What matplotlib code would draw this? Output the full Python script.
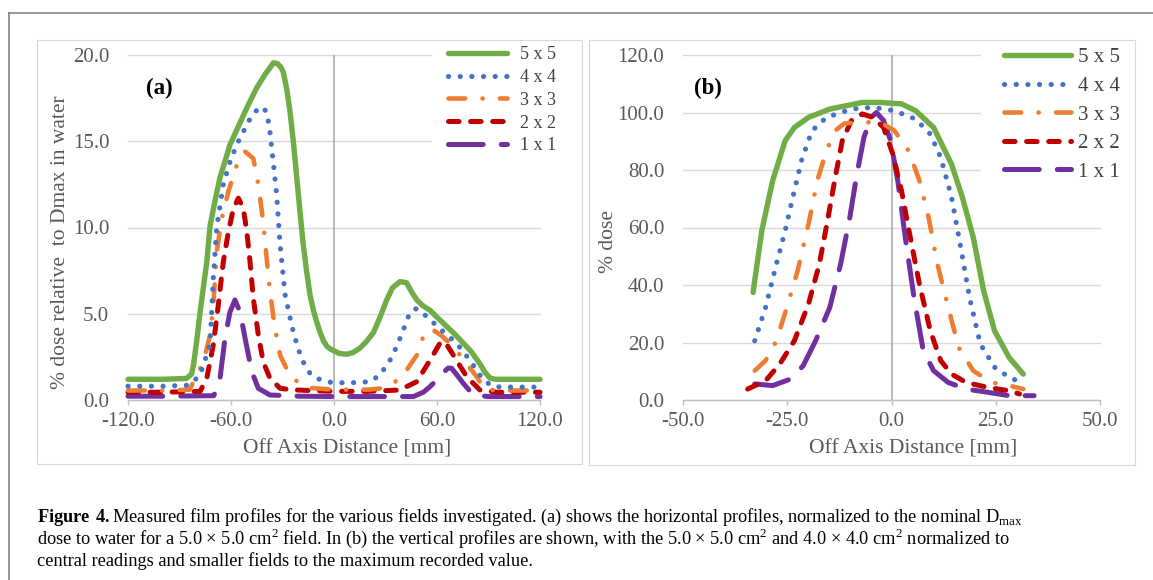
import matplotlib
matplotlib.use("Agg")
import matplotlib.pyplot as plt
from matplotlib.patches import Rectangle
from matplotlib.lines import Line2D

plt.rcParams['font.family'] = ['Liberation Serif', 'DejaVu Serif']
plt.rcParams['mathtext.fontset'] = 'custom'
plt.rcParams['mathtext.rm'] = 'Liberation Serif'
plt.rcParams['mathtext.bf'] = 'Liberation Serif:bold'
plt.rcParams['lines.scale_dashes'] = False

W, H = 1153, 580

# ---- panel (a): horizontal profiles, % of Dmax in water ----
a5_x = [-120, -100, -86, -83, -81.9, -80, -78, -76, -74.1, -72.2, -69, -66.4, -63, -60.6, -56,
        -52.8, -49, -45, -40, -37, -35.3, -33, -31, -29.5, -27.5, -25.6, -23.5, -21.7, -19.8,
        -17.9, -16, -14, -12, -10, -8, -6, -4, -2, 0, 3, 7.4, 11, 15, 19, 22.9, 26, 30.7, 34,
        38.4, 42.3, 45, 48.2, 52, 55.9, 60, 63.7, 70, 75.3, 80, 85, 88, 90.9, 94, 105, 120]
a5_y = [1.2, 1.2, 1.25, 1.5, 2.0, 3.4, 5.1, 6.6, 8.0, 10.1, 11.7, 12.9, 14.0, 14.8, 15.8,
        16.5, 17.3, 18.1, 18.9, 19.3, 19.55, 19.5, 19.3, 19.0, 18.0, 16.7, 14.8, 12.9, 10.9,
        9.0, 7.5, 6.1, 5.2, 4.5, 3.9, 3.4, 3.1, 2.95, 2.85, 2.7, 2.65, 2.75, 3.0, 3.4, 3.9,
        4.6, 5.8, 6.5, 6.86, 6.8, 6.3, 5.8, 5.45, 5.2, 4.8, 4.45, 3.85, 3.3, 2.8, 2.1, 1.6,
        1.27, 1.2, 1.2, 1.2]

a4_x = [-120, -100, -86, -83.9, -78, -72.2, -70.3, -68.3, -64.5, -60.6, -56.7, -52.8, -48.9,
        -45, -42.1, -39.2, -37.3, -35.4, -33.4, -31.4, -28.5, -24.6, -21, -17.9, -14, -10.1,
        -4.3, 0, 10, 21, 26.8, 32.6, 36.5, 40.4, 43.3, 47.2, 50, 54, 63.7, 71.4, 79.2, 87,
        92.8, 100, 120]
a4_y = [0.8, 0.8, 0.85, 0.9, 1.45, 3.2, 7.05, 10.0, 12.5, 13.8, 14.8, 15.55, 16.3, 16.8, 17.0,
        16.7, 15.55, 13.8, 11.9, 9.0, 6.1, 4.3, 3.0, 2.2, 1.55, 1.26, 1.06, 1.0, 1.0, 1.06,
        1.45, 2.3, 3.1, 4.06, 4.83, 5.3, 5.2, 4.83, 3.96, 3.29, 2.3, 1.16, 0.77, 0.75, 0.75]

a3_x = [-120, -100, -84, -81, -76.1, -72.2, -70.3, -68.3, -65.4, -61.5, -56.7, -51.8, -47,
        -44.1, -41.2, -39.2, -37.3, -34.4, -31.4, -25.6, -19.8, -14, 0, 20, 30, 34.5, 40.4,
        48.2, 53, 57.8, 63, 69.5, 77.3, 83.1, 88, 100, 120]
a3_y = [0.55, 0.55, 0.6, 1.26, 2.2, 3.77, 5.5, 8.6, 10.5, 12.1, 13.6, 14.4, 14.0, 12.5, 10.3,
        8.2, 6.3, 4.15, 2.6, 1.4, 0.95, 0.7, 0.6, 0.6, 0.7, 0.97, 1.45, 2.6, 3.96, 4.06, 3.7,
        3.1, 2.1, 1.35, 0.6, 0.55, 0.55]

a2_x = [-120, -100, -78, -74.1, -70.3, -67.4, -64.5, -61.5, -58.6, -55.7, -52.8, -50.8, -48.9,
        -47, -44.1, -41.2, -37.3, -31.4, -25.6, -15, 0, 20, 38.3, 48.2, 55.9, 61.7, 64.6,
        71.4, 77.3, 85, 95, 120]
a2_y = [0.45, 0.45, 0.5, 1.26, 3.2, 5.5, 8.0, 9.76, 11.1, 11.7, 11.1, 9.76, 8.0, 5.9, 3.77,
        2.2, 1.26, 0.68, 0.6, 0.55, 0.5, 0.5, 0.58, 1.06, 2.3, 3.29, 3.38, 2.3, 1.35, 0.58,
        0.45, 0.45]

a1_x = [-120, -100, -70, -66.4, -63.5, -60.6, -57.7, -54.7, -51.8, -47.9, -44.1, -37.3, -20,
        0, 20, 46.2, 52, 55.9, 59.8, 63.7, 66.5, 68.5, 72, 75.3, 81.1, 90, 120]
a1_y = [0.22, 0.22, 0.25, 1.26, 3.58, 5.1, 5.8, 5.1, 3.58, 1.64, 0.68, 0.29, 0.22, 0.2, 0.2,
        0.2, 0.45, 0.77, 1.16, 1.6, 1.85, 1.84, 1.4, 0.97, 0.29, 0.2, 0.2]

# ---- panel (b): vertical profiles, % dose ----
b5_x = [-33.2, -31.1, -28.5, -25.5, -23.3, -19.9, -14.8, -7, -2.7, 2.4, 5.8, 10.1, 14.4, 17,
        19.6, 22.1, 24.7, 28.2, 31.6]
b5_y = [37.4, 58.9, 76.3, 90.2, 94.8, 98.3, 101.2, 103.5, 103.5, 103, 100.6, 94.8, 82, 70.5,
        56.6, 38, 24.1, 14.8, 9.0]

b4_x = [-32.8, -30.2, -27.6, -25.5, -23.3, -21.6, -19.1, -15.6, -9.6, -4.5, 0.7, 5.8, 9.3,
        11.8, 14.4, 16.6, 18.7, 21.3, 24.7, 28.2, 31.6]
b4_y = [20.6, 32.2, 47.3, 58.9, 72.8, 83.2, 93.6, 98.3, 101.2, 101.8, 100.6, 97.7, 92.5, 84.4,
        70.5, 53.1, 35.7, 19.5, 11.4, 7.9, 5.8]

b3_x = [-32.8, -30.2, -27.6, -25.1, -22.5, -19.9, -17.8, -15.6, -13.5, -11.3, -6.2, -2.7, 0.7,
        4.1, 6.7, 8.9, 11, 13.6, 16.1, 19.6, 23.9, 28.2, 31.6]
b3_y = [10.2, 13.7, 20.6, 32.2, 45, 61.2, 76.3, 86.7, 93.7, 96.2, 96.6, 96.6, 93.7, 86.7, 76.3,
        63.5, 47.3, 32.2, 18.3, 10.2, 6.1, 5.0, 3.8]

b2_x = [-34.5, -30.2, -26.8, -23.3, -19.9, -17.3, -15.2, -13.5, -11.8, -9.6, -7, -4.5, -1.9,
        0.3, 2.4, 4.5, 6.7, 9.3, 11.8, 14.4, 17.9, 23, 28.2, 30.7]
b2_y = [3.8, 6.7, 12.5, 20.6, 33.4, 47.3, 63.5, 77.4, 90.2, 97.2, 99.5, 98.3, 94.8, 85.6, 72.8,
        56.6, 40.3, 24.1, 13.7, 9.0, 6.1, 4.4, 3.2, 2.1]

b1_x = [-32.8, -28.5, -24.2, -21.2, -18.2, -14.8, -12.2, -10, -8.3, -6.6, -4.9, -3.6, -1.9,
        -0.2, 1.5, 3.3, 5.4, 7.6, 10.1, 13.6, 17.9, 23, 28.2, 34.2]
b1_y = [5.6, 5.0, 7.3, 11.9, 20.6, 32.2, 47.3, 63.5, 78.6, 91.4, 98.3, 100, 97.2, 90.2, 76.3,
        56.6, 35.7, 17.2, 10.2, 6.1, 3.8, 2.7, 1.5, 1.5]

labels = ["5 x 5", "4 x 4", "3 x 3", "2 x 2", "1 x 1"]
colors = ["#70AD47", "#4472C4", "#ED7D31", "#C00000", "#7030A0"]

a_ticks_x = [-120, -60, 0, 60, 120]
a_ticks_y = [0, 5, 10, 15, 20]
b_ticks_x = [-50, -25, 0, 25, 50]
b_ticks_y = [0, 20, 40, 60, 80, 100, 120]


def style_for(i):
    if i == 0:
        return dict(lw=3.9, linestyle='-', solid_capstyle='round')
    if i == 1:
        return dict(lw=3.7, linestyle=(0, (0.1, 8.3)), dash_capstyle='round')
    if i == 2:
        return dict(lw=3.3, linestyle=(0, (12.0, 12.5, 0.1, 12.5)), dash_capstyle='round')
    if i == 3:
        return dict(lw=3.6, linestyle=(0, (7.6, 8.3)), dash_capstyle='round')
    return dict(lw=3.6, linestyle=(0, (25.0, 13.0)), dash_capstyle='round')


def fx(px):
    return px / W


def fy(py):
    return 1 - py / H


fig = plt.figure(figsize=(W / 100, H / 100), dpi=100)

# outer page frame and panel boxes
fig.add_artist(Line2D([fx(9), 1], [fy(12.5), fy(12.5)], color='#7a7a7a', lw=1.1))
fig.add_artist(Line2D([fx(9), fx(9)], [fy(12.5), 0], color='#7a7a7a', lw=1.1))
fig.add_artist(Rectangle((fx(37), fy(464)), fx(582) - fx(37), fy(40) - fy(464),
                         fill=False, ec='#D9D9D9', lw=0.8, zorder=5))
fig.add_artist(Rectangle((fx(589), fy(465)), fx(1135) - fx(589), fy(40) - fy(465),
                         fill=False, ec='#D9D9D9', lw=0.8, zorder=5))

ax_a = fig.add_axes([fx(128), fy(400), fx(540) - fx(128), fy(55) - fy(400)])
ax_b = fig.add_axes([fx(683), fy(400), fx(1100) - fx(683), fy(55) - fy(400)])

a_series = [(a5_x, a5_y), (a4_x, a4_y), (a3_x, a3_y), (a2_x, a2_y), (a1_x, a1_y)]
b_series = [(b5_x, b5_y), (b4_x, b4_y), (b3_x, b3_y), (b2_x, b2_y), (b1_x, b1_y)]

panels = [
    (ax_a, a_series, (-120, 120), (0, 20), a_ticks_x, a_ticks_y,
     "% dose relative  to Dmax in water", 0.532, -0.165),
    (ax_b, b_series, (-50, 50), (0, 120), b_ticks_x, b_ticks_y,
     "% dose", 0.552, -0.178),
]

for ax, series, xlim, ylim, tx, ty, ylab, xl_x, yl_x in panels:
    for i, (xs, ys) in enumerate(series):
        ax.plot(xs, ys, color=colors[i], label=labels[i], clip_on=False,
                zorder=3 + (5 - i) * 0.1, **style_for(i))
    ax.set_xlim(*xlim)
    ax.set_ylim(*ylim)
    ax.set_xticks(tx)
    ax.set_yticks(ty)
    ax.set_xticklabels([f"{v:.1f}" for v in tx])
    ax.set_yticklabels([f"{v:.1f}" for v in ty])
    for s in ['top', 'right', 'left']:
        ax.spines[s].set_visible(False)
    ax.spines['bottom'].set_color('#BFBFBF')
    ax.spines['bottom'].set_linewidth(1.0)
    ax.axvline(0, color='#A6A6A6', lw=1.1, zorder=1)
    ax.yaxis.grid(True, color='#D9D9D9', lw=1.0)
    for gl in ax.get_ygridlines():
        gl.set_clip_on(False)
    ax.set_axisbelow(True)
    ax.tick_params(axis='y', length=0, pad=13.5, labelsize=15, labelcolor='#595959')
    ax.tick_params(axis='x', length=3.6, width=1.0, color='#BFBFBF', pad=5,
                   labelsize=15, labelcolor='#595959')
    ax.set_xlabel("Off Axis Distance [mm]", fontsize=15.5, color='#595959')
    ax.xaxis.set_label_coords(xl_x, -0.142)
    ax.xaxis.label.set_va('center')
    ax.set_ylabel(ylab, fontsize=15.5, color='#595959')
    ax.yaxis.set_label_coords(yl_x, 0.458)
    ax.yaxis.label.set_va('center')
    ax.patch.set_alpha(0)

fig.text(fx(159), fy(88), "(a)", fontsize=16.5, fontweight='bold', ha='center', va='center')
fig.text(fx(708), fy(88), "(b)", fontsize=16.5, fontweight='bold', ha='center', va='center')

leg_a = ax_a.legend(loc='upper left', bbox_to_anchor=(fx(432), fy(30)),
                    bbox_transform=fig.transFigure, frameon=True, fancybox=False,
                    facecolor='white', edgecolor='none', framealpha=1,
                    prop={'size': 13}, borderpad=0.9, borderaxespad=0,
                    handlelength=3.27, handletextpad=0.7, labelspacing=0.32)
leg_b = ax_b.legend(loc='upper left', bbox_to_anchor=(fx(981), fy(25)),
                    bbox_transform=fig.transFigure, frameon=True, fancybox=False,
                    facecolor='white', edgecolor='none', framealpha=1,
                    prop={'size': 15}, borderpad=1.1, borderaxespad=0,
                    handlelength=3.2, handletextpad=0.35, labelspacing=0.43)
for leg in (leg_a, leg_b):
    for t in leg.get_texts():
        t.set_color('#404040')

# caption
cap_lines = [
    r"$\mathbf{Figure\ 4.}$Measured film profiles for the various fields investigated. "
    r"(a) shows the horizontal profiles, normalized to the nominal D$_{\rm max}$",
    "dose to water for a 5.0 \u00d7 5.0 cm$^2$ field. In (b) the vertical profiles are shown, "
    "with the 5.0 \u00d7 5.0 cm$^2$ and 4.0 \u00d7 4.0 cm$^2$ normalized to",
    "central readings and smaller fields to the maximum recorded value.",
]
cap_y = [522, 544, 566]
for s, y in zip(cap_lines, cap_y):
    fig.text(fx(37), fy(y), s, fontsize=13.2, ha='left', va='baseline')

fig.savefig("out.png", dpi=100)
